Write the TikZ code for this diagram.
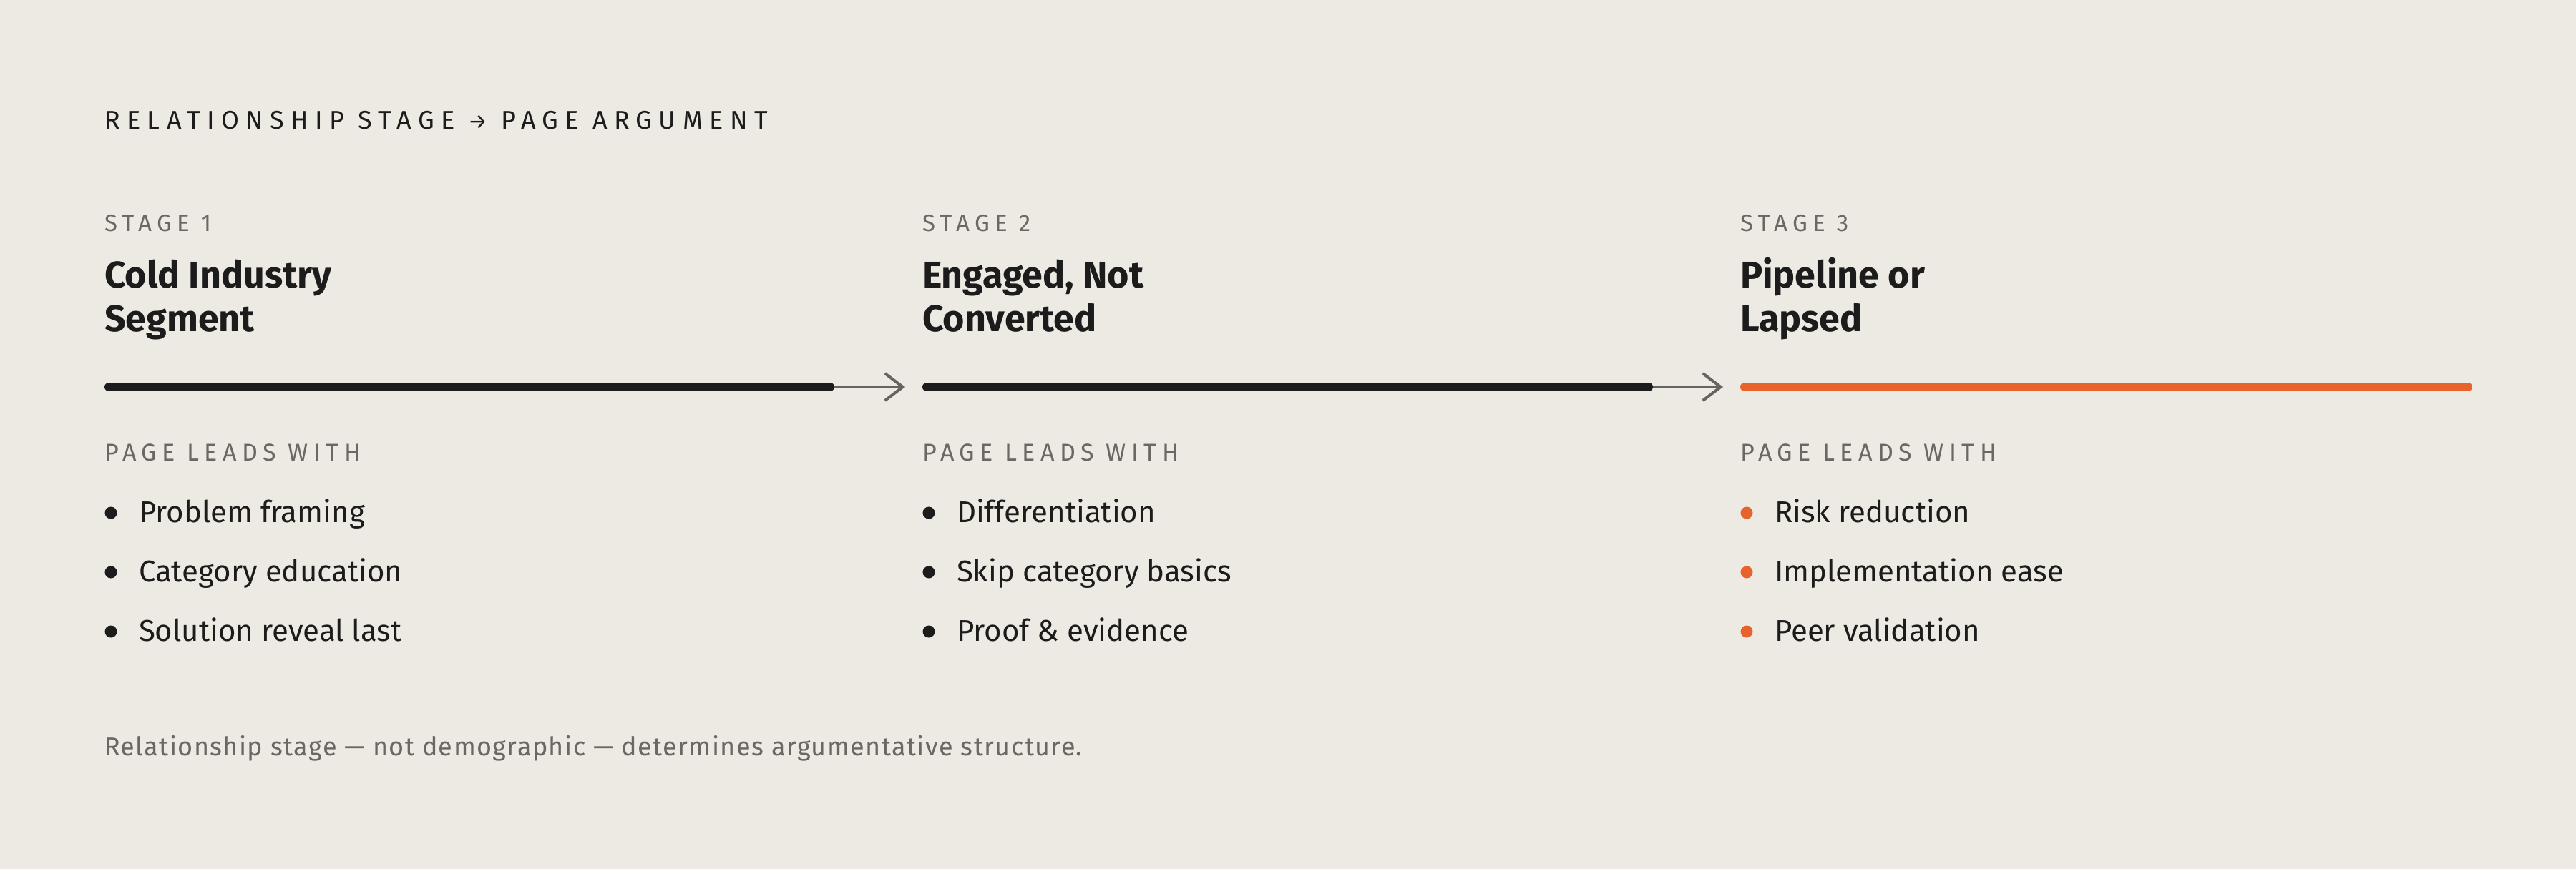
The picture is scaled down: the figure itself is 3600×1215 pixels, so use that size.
\documentclass[tikz,border=0pt]{standalone}
\usepackage{fontspec}
\setmainfont{Fira Sans}
\newfontfamily\titlefont[LetterSpace=26]{Fira Sans}
\newfontfamily\capfont[LetterSpace=22]{Fira Sans}
\newfontfamily\footfont[LetterSpace=4]{Fira Sans}
\usetikzlibrary{arrows.meta}
\definecolor{bg}{HTML}{EDEAE3}
\definecolor{ink}{HTML}{1C1C1C}
\definecolor{muted}{HTML}{6B6762}
\definecolor{accent}{HTML}{E8632B}
\definecolor{arrowgray}{HTML}{666461}
\tikzset{
  x=0.5pt, y=-0.5pt,
  txt/.style={inner sep=0pt, outer sep=0pt, anchor=base west},
  titletxt/.style={txt, text=ink, font=\titlefont\fontsize{18}{22}\selectfont},
  stagetxt/.style={txt, text=muted, font=\capfont\fontsize{16.5}{20}\selectfont},
  headtxt/.style={txt, text=ink, align=left, font=\bfseries\fontsize{26}{30.5}\selectfont},
  leadtxt/.style={txt, text=muted, font=\capfont\fontsize{17}{20}\selectfont},
  itemtxt/.style={txt, text=ink, font=\fontsize{21}{26}\selectfont},
  foottxt/.style={txt, text=muted, font=\footfont\fontsize{18}{22}\selectfont},
  bar/.style={line width=6pt, line cap=round},
  connector/.style={draw=arrowgray, line width=2pt, -{Straight Barb[length=12.5pt, width=19pt, line width=2pt]}},
  dot/.style={circle, inner sep=0pt, minimum size=8.5pt},
}
\begin{document}
\begin{tikzpicture}
\fill[bg] (0,0) rectangle (3600,1215);
\useasboundingbox (0,0) rectangle (3600,1215);

\node[titletxt] (title) at (146,180) {RELATIONSHIP STAGE {\fontsize{15}{22}\selectfont→} PAGE ARGUMENT};

% column 1 (heading node: base anchor is the baseline of its last line)
\node[stagetxt] (s1) at (146,323) {STAGE 1};
\node[headtxt] (h1) at (146,463) {Cold Industry\\Segment};
\coordinate (b1s) at (152,541);
\coordinate (b1e) at (1160,541);
\node[leadtxt] (l1) at (146,644) {PAGE LEADS WITH};
\node[dot, fill=ink] (d11) at (155,717) {};
\node[itemtxt] (i11) at (194,730) {Problem framing};
\node[dot, fill=ink] (d12) at (155,800) {};
\node[itemtxt] (i12) at (194,813) {Category education};
\node[dot, fill=ink] (d13) at (155,883) {};
\node[itemtxt] (i13) at (194,896) {Solution reveal last};

% column 2
\node[stagetxt] (s2) at (1289,323) {STAGE 2};
\node[headtxt] (h2) at (1289,463) {Engaged, Not\\Converted};
\coordinate (b2s) at (1295,541);
\coordinate (b2e) at (2304,541);
\node[leadtxt] (l2) at (1289,644) {PAGE LEADS WITH};
\node[dot, fill=ink] (d21) at (1298,717) {};
\node[itemtxt] (i21) at (1337,730) {Differentiation};
\node[dot, fill=ink] (d22) at (1298,800) {};
\node[itemtxt] (i22) at (1337,813) {Skip category basics};
\node[dot, fill=ink] (d23) at (1298,883) {};
\node[itemtxt] (i23) at (1337,896) {Proof \& evidence};

% column 3
\node[stagetxt] (s3) at (2432,323) {STAGE 3};
\node[headtxt] (h3) at (2432,463) {Pipeline or\\Lapsed};
\coordinate (b3s) at (2438,541);
\coordinate (b3e) at (3449,541);
\node[leadtxt] (l3) at (2432,644) {PAGE LEADS WITH};
\node[dot, fill=accent] (d31) at (2441,717) {};
\node[itemtxt] (i31) at (2480,730) {Risk reduction};
\node[dot, fill=accent] (d32) at (2441,800) {};
\node[itemtxt] (i32) at (2480,813) {Implementation ease};
\node[dot, fill=accent] (d33) at (2441,883) {};
\node[itemtxt] (i33) at (2480,896) {Peer validation};

% connectors
\coordinate (a1) at (1265,541);
\coordinate (a2) at (2408,541);
\draw[connector] (b1e) -- (a1);
\draw[connector] (b2e) -- (a2);

% bars
\draw[bar, ink] (b1s) -- (b1e);
\draw[bar, ink] (b2s) -- (b2e);
\draw[bar, accent] (b3s) -- (b3e);

\node[foottxt] (foot) at (146,1056) {Relationship stage — not demographic — determines argumentative structure.};
\end{tikzpicture}
\end{document}
